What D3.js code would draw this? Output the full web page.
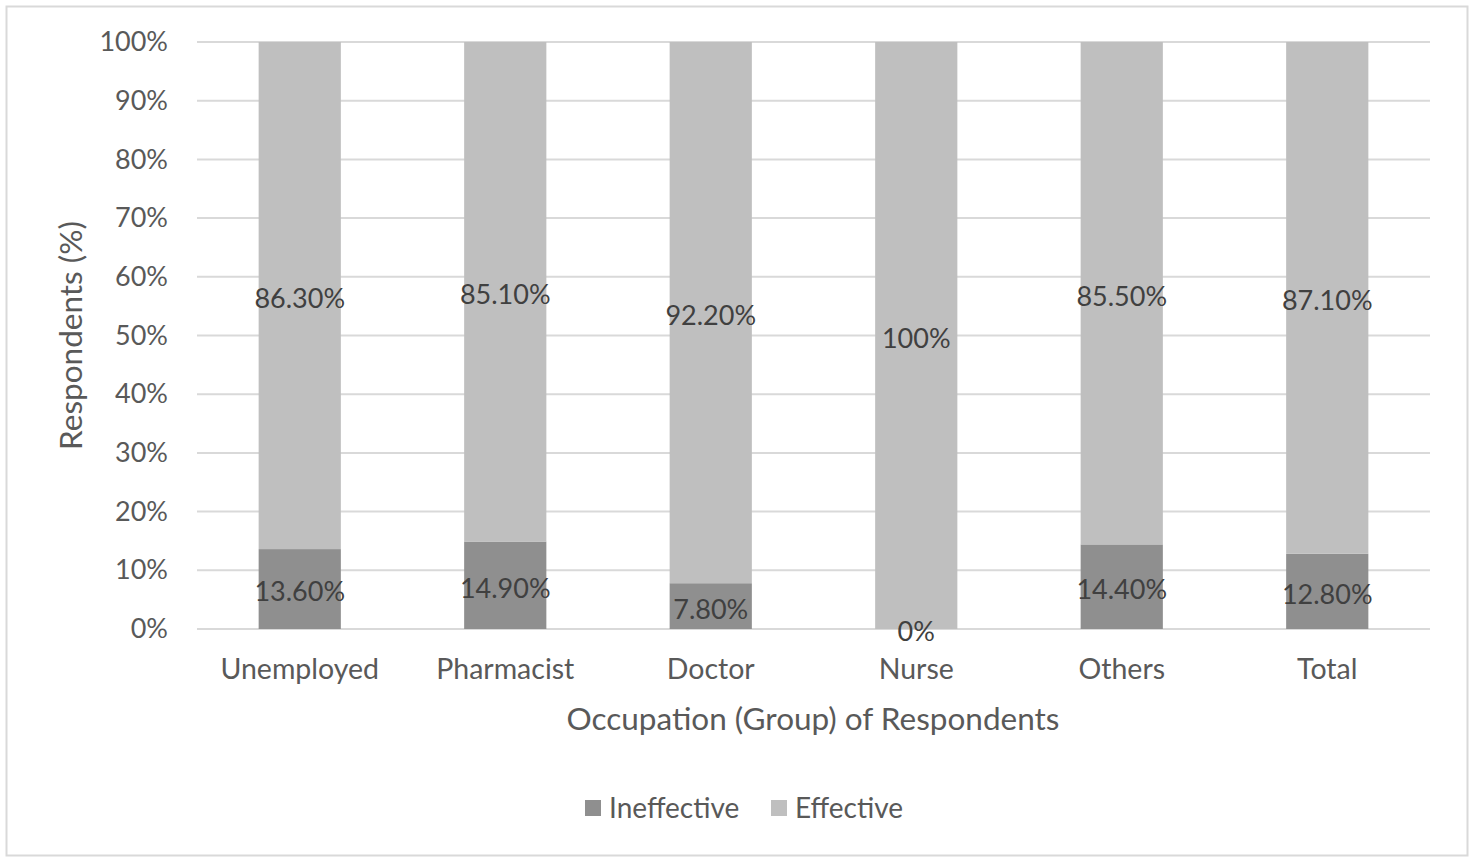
<!DOCTYPE html>
<html>
<head>
<meta charset="utf-8">
<script src="https://cdn.jsdelivr.net/npm/d3@7"></script>
<style>
  html, body { margin: 0; padding: 0; background: #fff; }
  svg text { font-family: Lato, "Open Sans", sans-serif; }
</style>
</head>
<body>
<svg id="chart" width="1475" height="857"></svg>
<script>
// Occupation groups and the share of respondents in each answer
const categories = ["Unemployed", "Pharmacist", "Doctor", "Nurse", "Others", "Total"];
const ineffective = [13.6, 14.9, 7.8, 0, 14.4, 12.8];
const effective = [86.3, 85.1, 92.2, 100, 85.5, 87.1];
const ineffectiveLabels = ["13.60%", "14.90%", "7.80%", "0%", "14.40%", "12.80%"];
const effectiveLabels = ["86.30%", "85.10%", "92.20%", "100%", "85.50%", "87.10%"];
const yTicks = [0, 0.1, 0.2, 0.3, 0.4, 0.5, 0.6, 0.7, 0.8, 0.9, 1.0];
const seriesNames = ["Ineffective", "Effective"];

const colors = { Ineffective: "#8f8f8f", Effective: "#bfbfbf" };
const textColor = "#595959";
const labelColor = "#404040";
const tickSize = 27;
const catSize = 28.5;
const labelSize = 27;
const titleSize = 31.5;
const legendSize = 28;

const svg = d3.select("#chart");

// outer chart border
svg.append("rect")
  .attr("x", 6.5).attr("y", 6.5)
  .attr("width", 1461).attr("height", 849)
  .attr("fill", "#fff")
  .attr("stroke", "#d9d9d9")
  .attr("stroke-width", 2);

const plot = { left: 197, right: 1430, top: 42, bottom: 629 };

const x = d3.scaleBand()
  .domain(categories)
  .range([plot.left, plot.right])
  .paddingInner(0.6)
  .paddingOuter(0.3);

const y = d3.scaleLinear()
  .domain([0, 1])
  .range([plot.bottom, plot.top]);

// 100% stacked: each column is normalised to its own total
const rows = categories.map((c, i) => {
  const total = ineffective[i] + effective[i];
  return { category: c, Ineffective: ineffective[i] / total, Effective: effective[i] / total,
           labels: { Ineffective: ineffectiveLabels[i], Effective: effectiveLabels[i] } };
});
const stacked = d3.stack().keys(seriesNames)(rows);

// horizontal gridlines
svg.append("g")
  .selectAll("line")
  .data(yTicks)
  .join("line")
  .attr("x1", plot.left).attr("x2", plot.right)
  .attr("y1", d => y(d)).attr("y2", d => y(d))
  .attr("stroke", "#d9d9d9")
  .attr("stroke-width", 2);

// y axis tick labels
const yAxis = d3.axisLeft(y)
  .tickValues(yTicks)
  .tickFormat(d3.format(".0%"))
  .tickSize(0)
  .tickPadding(29);
const yg = svg.append("g")
  .attr("transform", `translate(${plot.left},0)`)
  .call(yAxis);
yg.select(".domain").remove();
yg.selectAll("text")
  .attr("fill", textColor)
  .style("font-size", tickSize + "px")
  .style("font-family", "Lato, sans-serif");

// bars
const layers = svg.append("g")
  .selectAll("g")
  .data(stacked)
  .join("g")
  .attr("fill", d => colors[d.key]);

layers.selectAll("rect")
  .data(d => d)
  .join("rect")
  .attr("x", d => x(d.data.category))
  .attr("width", x.bandwidth())
  .attr("y", d => y(d[1]))
  .attr("height", d => y(d[0]) - y(d[1]));

// data labels, centred in each segment
const labelG = svg.append("g");
stacked.forEach(layer => {
  labelG.selectAll(null)
    .data(layer)
    .join("text")
    .attr("x", d => x(d.data.category) + x.bandwidth() / 2)
    .attr("y", d => y((d[0] + d[1]) / 2) + 3)
    .attr("dy", "0.35em")
    .attr("text-anchor", "middle")
    .attr("fill", labelColor)
    .style("font-size", labelSize + "px")
    .text(d => d.data.labels[layer.key]);
});

// category axis
const xAxis = d3.axisBottom(x).tickSize(0).tickPadding(30);
const xg = svg.append("g")
  .attr("transform", `translate(0,${plot.bottom})`)
  .call(xAxis);
xg.select(".domain").remove();
xg.selectAll("text")
  .attr("fill", textColor)
  .style("font-size", catSize + "px")
  .style("font-family", "Lato, sans-serif");

// axis titles
svg.append("text")
  .attr("transform", `translate(71,${(plot.top + plot.bottom) / 2}) rotate(-90)`)
  .attr("text-anchor", "middle")
  .attr("dy", "0.35em")
  .attr("fill", textColor)
  .style("font-size", titleSize + "px")
  .text("Respondents (%)");

svg.append("text")
  .attr("x", 813)
  .attr("y", 719)
  .attr("dy", "0.35em")
  .attr("text-anchor", "middle")
  .attr("fill", textColor)
  .style("font-size", titleSize + "px")
  .text("Occupation (Group) of Respondents");

// legend
const legendItems = [
  { key: "Ineffective", x: 585 },
  { key: "Effective", x: 771 }
];
const legend = svg.append("g").attr("transform", "translate(0,808)");
legendItems.forEach(item => {
  legend.append("rect")
    .attr("x", item.x).attr("y", -8)
    .attr("width", 16).attr("height", 16)
    .attr("fill", colors[item.key]);
  legend.append("text")
    .attr("x", item.x + 24)
    .attr("y", 0)
    .attr("dy", "0.35em")
    .attr("fill", textColor)
    .style("font-size", legendSize + "px")
    .text(item.key);
});
</script>
</body>
</html>
